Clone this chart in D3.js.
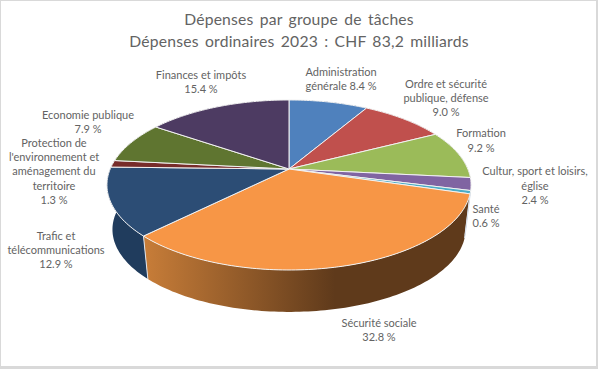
<!DOCTYPE html>
<html>
<head>
<meta charset="utf-8">
<script src="https://cdn.jsdelivr.net/npm/d3@7"></script>
<style>
  html, body { margin: 0; padding: 0; background: #fff; }
  svg { display: block; }
  text { font-family: Lato, "Open Sans", sans-serif; fill: #636363; }
</style>
</head>
<body>
<div id="chart"></div>
<script>
// data (percent of total)
var categories = ["Administration", "Ordre", "Formation", "Culture", "Santé", "Sécurité sociale", "Trafic", "Protection", "Economie", "Finances"];
var values = [8.4, 9.0, 9.2, 2.4, 0.6, 32.8, 12.9, 1.3, 7.9, 15.4];
var colors = ["#4f81bd", "#c0504d", "#9bbb59", "#8064a2", "#4bacc6", "#f79646", "#2c4d75", "#772c2a", "#5f7530", "#4d3b62"];
var titleLines = ["Dépenses par groupe de tâches", "Dépenses ordinaires 2023 : CHF 83,2 milliards"];
var labelLines = [
  ["Administration", "générale 8.4 %"],
  ["Ordre et sécurité", "publique, défense", "9.0 %"],
  ["Formation", "9.2 %"],
  ["Cultur, sport et loisirs,", "église", "2.4 %"],
  ["Santé", "0.6 %"],
  ["Sécurité sociale", "32.8 %"],
  ["Trafic et", "télécommunications", "12.9 %"],
  ["Protection de", "l'environnement et", "aménagement du", "territoire", "1.3 %"],
  ["Economie publique", "7.9 %"],
  ["Finances et impôts", "15.4 %"]
];
// label anchors: centre x, centre y of first line
var labelX = [341, 446, 481, 535, 486, 379, 56, 54, 88, 201];
var labelY = [72, 84, 133.5, 171.5, 209, 323, 236, 143, 115, 75];

var width = 598, height = 369;

var svg = d3.select("#chart").append("svg")
  .attr("width", width)
  .attr("height", height);

// frame of the screenshot
svg.append("rect").attr("width", width).attr("height", height).attr("fill", "#d9d9d9");
svg.append("rect").attr("x", 1).attr("y", 1).attr("width", 595).attr("height", 365).attr("fill", "#fff");

// the pie lies tilted, so the near side is drawn larger (projective mapping)
var k = 0.188;
var xTop = d3.scaleLinear().domain([-1, 1]).range([110.2, 467.8]);
var yTop = d3.scaleLinear().domain([-1, 1]).range([87, 251]);
var xBottom = d3.scaleLinear().domain([-1, 1]).range([115.6, 462.4]);
var yBottom = d3.scaleLinear().domain([-1, 1]).range([134.5, 293.5]);

function project(angle, xs, ys) {
  var u = Math.sin(angle), v = -Math.cos(angle), w = 1 - k * v;
  return [xs(u / w), ys(v / w)];
}

function rim(a0, a1, xs, ys) {
  var n = Math.max(2, Math.ceil((a1 - a0) / 0.02));
  return d3.range(n + 1).map(function(i) {
    return project(a0 + (a1 - a0) * i / n, xs, ys);
  });
}

var pie = d3.pie().value(function(d) { return d; }).sort(null);
var slices = pie(values);
var line = d3.line();

var defs = svg.append("defs");
var orangeSide = defs.append("linearGradient").attr("id", "orangeSide")
  .attr("gradientUnits", "userSpaceOnUse")
  .attr("x1", 147).attr("x2", 335).attr("y1", 0).attr("y2", 0);
orangeSide.append("stop").attr("offset", 0).attr("stop-color", "#c67c38");
orangeSide.append("stop").attr("offset", 1).attr("stop-color", "#5f3a1b");

function sideFill(i) {
  if (i === 5) return "url(#orangeSide)";
  if (i === 6) return "#203c5d";
  return d3.color(colors[i]).darker(0.9);
}

// walls, back ones first
var order = d3.range(slices.length).sort(function(a, b) {
  var ma = (slices[a].startAngle + slices[a].endAngle) / 2;
  var mb = (slices[b].startAngle + slices[b].endAngle) / 2;
  return Math.abs(mb - Math.PI) - Math.abs(ma - Math.PI);
});

svg.append("g").selectAll("path")
  .data(order)
  .enter()
  .append("path")
  .attr("d", function(i) {
    var d = slices[i];
    var top = rim(d.startAngle, d.endAngle, xTop, yTop);
    var bottom = rim(d.startAngle, d.endAngle, xBottom, yBottom).reverse();
    return line(top.concat(bottom)) + "Z";
  })
  .attr("fill", function(i) { return sideFill(i); });

// pale seams on the near wall: Santé, Sécurité sociale, Trafic
svg.append("g").selectAll("path")
  .data([4, 5, 6])
  .enter()
  .append("path")
  .attr("d", function(i) {
    var a = slices[i].startAngle;
    return line([project(a, xTop, yTop), project(a, xBottom, yBottom)]);
  })
  .attr("stroke", "#dde3ec")
  .attr("stroke-width", 1)
  .attr("fill", "none");

// top faces
svg.append("g").selectAll("path")
  .data(slices)
  .enter()
  .append("path")
  .attr("d", function(d) {
    var pts = rim(d.startAngle, d.endAngle, xTop, yTop);
    pts.unshift([xTop(0), yTop(0)]);
    return line(pts) + "Z";
  })
  .attr("fill", function(d, i) { return colors[i]; })
  .attr("stroke", "#f2f2f2")
  .attr("stroke-width", 1)
  .attr("stroke-linejoin", "round");

// slice labels
var labels = svg.append("g").selectAll("g")
  .data(labelLines)
  .enter()
  .append("g")
  .attr("transform", function(d, i) { return "translate(" + labelX[i] + "," + labelY[i] + ")"; });

labels.selectAll("text")
  .data(function(d) { return d; })
  .enter()
  .append("text")
  .attr("text-anchor", "middle")
  .attr("dy", "0.35em")
  .attr("y", function(d, i) { return i * 14.3; })
  .attr("font-size", 11)
  .text(function(d) { return d; });

// title
svg.append("g").selectAll("text")
  .data(titleLines)
  .enter()
  .append("text")
  .attr("x", 299)
  .attr("y", function(d, i) { return 25 + i * 21.5; })
  .attr("text-anchor", "middle")
  .attr("font-size", 15.7)
  .attr("word-spacing", 2)
  .style("letter-spacing", "0.2px")
  .text(function(d) { return d; });
</script>
</body>
</html>
